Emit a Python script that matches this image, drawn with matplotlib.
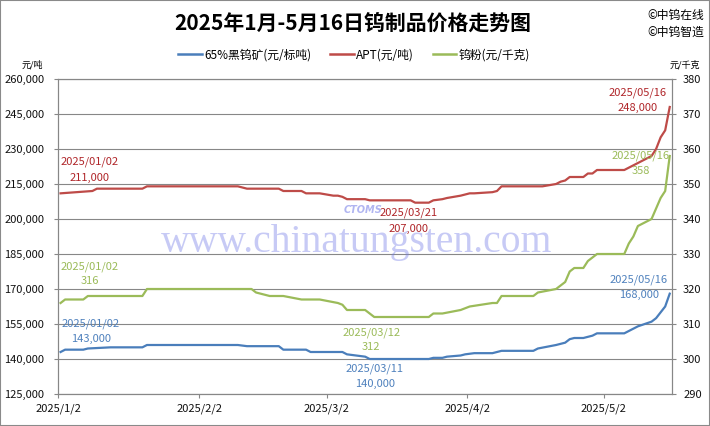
import pandas as pd
import matplotlib
matplotlib.use("Agg")
import matplotlib.pyplot as plt
from matplotlib.ticker import FuncFormatter
from matplotlib.lines import Line2D
from matplotlib.patches import Rectangle

plt.rcParams['font.family'] = ['Noto Sans CJK SC', 'DejaVu Sans']

YEAR = 2025

# 65%黑钨矿 (元/标吨)
blue_dates = ["01-02", "01-03", "01-07", "01-08", "01-13", "01-20", "01-21", "02-10", "02-12", "02-19",
              "02-20", "02-25", "02-26", "03-05", "03-06", "03-10", "03-11", "03-24", "03-25", "03-27",
              "03-28", "03-31", "04-01", "04-03", "04-07", "04-08", "04-09", "04-16", "04-17", "04-21",
              "04-22", "04-23", "04-24", "04-25", "04-27", "04-28", "04-29", "04-30", "05-06", "05-07",
              "05-08", "05-09", "05-12", "05-13", "05-14", "05-15", "05-16"]
blue_vals = [143000, 144000, 144000, 144500, 145000, 145000, 146000, 146000, 145500, 145500,
             144000, 144000, 143000, 143000, 142000, 141000, 140000, 140000, 140500, 140500,
             141000, 141500, 142000, 142500, 142500, 143000, 143500, 143500, 144500, 146000,
             146500, 147000, 148500, 149000, 149000, 149500, 150000, 151000, 151000, 152000,
             153000, 154000, 156000, 157500, 160000, 162500, 168000]

# APT (元/吨)
red_dates = ["01-02", "01-09", "01-10", "01-20", "01-21", "02-10", "02-12", "02-19", "02-20", "02-24",
             "02-25", "02-28", "03-03", "03-04", "03-05", "03-06", "03-10", "03-11", "03-20", "03-21",
             "03-24", "03-25", "03-27", "03-28", "03-31", "04-01", "04-02", "04-03", "04-07", "04-08",
             "04-09", "04-18", "04-21", "04-22", "04-23", "04-24", "04-25", "04-27", "04-28", "04-29",
             "04-30", "05-06", "05-07", "05-08", "05-09", "05-12", "05-13", "05-14", "05-15", "05-16"]
red_vals = [211000, 212000, 213000, 213000, 214000, 214000, 213000, 213000, 212000, 212000,
            211000, 211000, 210000, 210000, 209500, 208500, 208500, 208000, 208000, 207000,
            207000, 208000, 208500, 209000, 210000, 210500, 211000, 211000, 211500, 212000,
            214000, 214000, 215000, 216000, 216500, 218000, 218000, 218000, 219500, 219500,
            221000, 221000, 222000, 223000, 224000, 227000, 230000, 235000, 238000, 248000]

# 钨粉 (元/千克)
green_dates = ["01-02", "01-03", "01-07", "01-08", "01-20", "01-21", "02-13", "02-14", "02-17", "02-20",
               "02-24", "02-28", "03-04", "03-05", "03-06", "03-10", "03-11", "03-12", "03-24", "03-25",
               "03-27", "03-31", "04-02", "04-07", "04-08", "04-09", "04-16", "04-17", "04-21", "04-22",
               "04-23", "04-24", "04-25", "04-27", "04-28", "04-29", "04-30", "05-06", "05-07", "05-08",
               "05-09", "05-12", "05-13", "05-14", "05-15", "05-16"]
green_vals = [316, 317, 317, 318, 318, 320, 320, 319, 318, 318,
              317, 317, 316, 315.5, 314, 314, 313, 312, 312, 313,
              313, 314, 315, 316, 316, 318, 318, 319, 320, 321,
              322, 325, 326, 326, 328, 329, 330, 330, 333, 335,
              338, 340, 343, 346, 348, 358]

series_names = ["65%黑钨矿(元/标吨)", "APT(元/吨)", "钨粉(元/千克)"]
tick_dates = ["01-02", "02-02", "03-02", "04-02", "05-02"]
left_ticks = [125000, 140000, 155000, 170000, 185000, 200000, 215000, 230000, 245000, 260000]
right_ticks = [290, 300, 310, 320, 330, 340, 350, 360, 370, 380]
blue_labels = ["01-02", "03-11", "05-16"]
red_labels = ["01-02", "03-21", "05-16"]
green_labels = ["01-02", "03-12", "05-16"]

title = "2025年1月-5月16日钨制品价格走势图"

C_BLUE = "#4a7ebb"
C_RED = "#be4b48"
C_GREEN = "#9bbb59"
T_BLUE = "#4f81bd"
T_RED = "#b0262a"
T_GREEN = "#9bbb59"
GRID = "#878787"


def to_dt(md):
    return pd.to_datetime([f"{YEAR}-{d}" for d in md])


half_day = pd.Timedelta(hours=12)

fig = plt.figure(figsize=(7.1, 4.26), dpi=100)
ax = fig.add_axes([58.3 / 710, 1 - 394 / 426, (672 - 58.3) / 710, (394 - 79) / 426])
ax2 = ax.twinx()

bx = to_dt(blue_dates) + half_day
rx = to_dt(red_dates) + half_day
gx = to_dt(green_dates) + half_day

ax.plot(bx, blue_vals, color=C_BLUE, lw=1.6, zorder=3, solid_joinstyle="round")
ax.plot(rx, red_vals, color=C_RED, lw=1.6, zorder=3, solid_joinstyle="round")
ax2.plot(gx, green_vals, color=C_GREEN, lw=1.6, zorder=3, solid_joinstyle="round")

ax.set_xlim(pd.Timestamp(f"{YEAR}-01-02"), pd.Timestamp(f"{YEAR}-05-17"))
ax.set_ylim(left_ticks[0], left_ticks[-1])
ax2.set_ylim(right_ticks[0], right_ticks[-1])
ax.set_yticks(left_ticks)
ax2.set_yticks(right_ticks)
ax.yaxis.set_major_formatter(FuncFormatter(lambda v, p: f"{int(v):,}"))
ax2.yaxis.set_major_formatter(FuncFormatter(lambda v, p: f"{int(v)}"))

ticks = to_dt(tick_dates)
ax.set_xticks(ticks)
ax.set_xticklabels([f"{d.year}/{d.month}/{d.day}" for d in ticks])

ax.grid(axis="y", color=GRID, lw=0.8)
ax.set_axisbelow(True)
for a in (ax, ax2):
    for s in a.spines.values():
        s.set_color(GRID)
        s.set_linewidth(0.8)
ax.tick_params(axis="y", length=3, width=0.8, color=GRID, pad=7, labelsize=8, labelcolor="#111111")
ax.tick_params(axis="x", length=3, width=0.8, color=GRID, pad=4, labelsize=8, labelcolor="#111111")
ax2.tick_params(axis="y", length=3, width=0.8, color=GRID, pad=5, labelsize=8, labelcolor="#111111")


def label(axis, dates, xs, vals, lab_dates, offsets, color, fmt):
    lookup = dict(zip(dates, zip(xs, vals)))
    for d, (off_date, off_val) in zip(lab_dates, offsets):
        x, v = lookup[d]
        axis.annotate(f"{YEAR}/{d.replace('-', '/')}", (x, v), xytext=off_date,
                      textcoords="offset pixels", ha="center", va="center",
                      fontsize=8, color=color, zorder=5)
        axis.annotate(fmt(v), (x, v), xytext=off_val,
                      textcoords="offset pixels", ha="center", va="center",
                      fontsize=8, color=color, zorder=5)


label(ax, red_dates, rx, red_vals, red_labels,
      [((29.4, 31.3), (29.4, 15.7)), ((-6.7, -10.3), (-6.4, -26)), ((-32.4, 13.8), (-31.7, -0.6))],
      T_RED, lambda v: f"{int(v):,}")
label(ax, blue_dates, bx, blue_vals, blue_labels,
      [((30, 27.8), (30.5, 12.8)), ((5.1, -10.2), (5.8, -24.5)), ((-30.7, 14.3), (-30.4, -1.7))],
      T_BLUE, lambda v: f"{int(v):,}")
label(ax2, green_dates, gx, green_vals, green_labels,
      [((29.4, 36.3), (29.4, 21.9)), ((-3.1, -15.6), (-3.1, -30)), ((-29, 0.2), (-29, -14.5))],
      T_GREEN, lambda v: f"{int(v)}")

# watermark
fig.text(357 / 710, 1 - 252 / 426, "www.chinatungsten.com", family="Liberation Serif",
         fontsize=28.5, color="#737ce7", alpha=0.4, ha="center", va="baseline", zorder=10)
fig.text(363 / 710, 1 - 210 / 426, "CTOMS", fontsize=7, style="italic", weight="bold",
         color="#8f96ec", alpha=0.7, ha="center", va="center", family="DejaVu Sans", zorder=10)

# titles and notes
fig.text(352.5 / 710, 1 - 23 / 426, title, fontsize=15, weight="bold", ha="center", va="center")
fig.text(647 / 710, 1 - 15 / 426, "©中钨在线", fontsize=8.5, ha="left", va="center")
fig.text(647 / 710, 1 - 32 / 426, "©中钨智造", fontsize=8.5, ha="left", va="center")
fig.text(32 / 710, 1 - 65 / 426, "元/吨", fontsize=6.5, ha="center", va="center")
fig.text(685 / 710, 1 - 65 / 426, "元/千克", fontsize=6.5, ha="center", va="center")

handles = [Line2D([], [], color=c, lw=1.8) for c in (C_BLUE, C_RED, C_GREEN)]
fig.legend(handles, series_names, loc="center", bbox_to_anchor=(354 / 710, 1 - 55 / 426),
           ncol=3, frameon=False, fontsize=8.5, handlelength=2.0, handletextpad=0.2,
           columnspacing=1.6, borderpad=0)

fig.add_artist(Rectangle((0, 0), 1, 1, transform=fig.transFigure, fill=False,
                         edgecolor="#8a8a8a", lw=1.5))

fig.savefig("out.png", dpi=100)
